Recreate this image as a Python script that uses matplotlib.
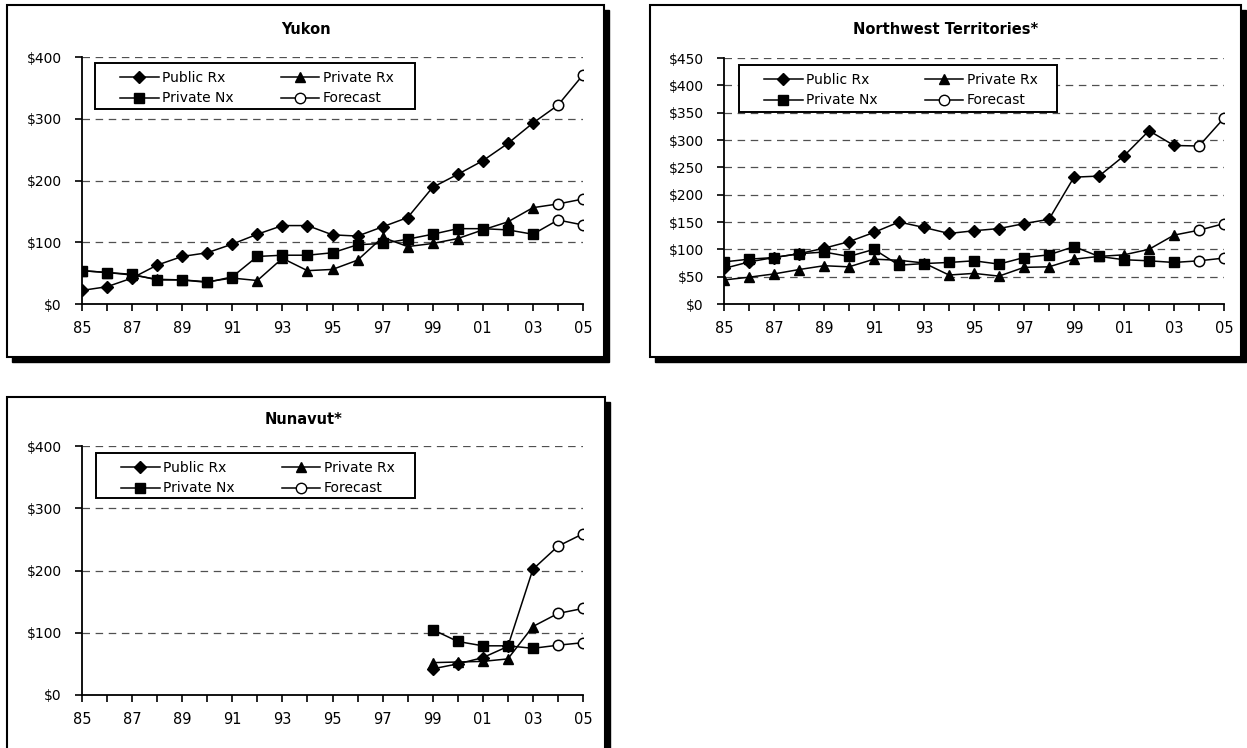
import matplotlib
matplotlib.use("Agg")
import matplotlib.pyplot as plt
from matplotlib.patches import Rectangle
from matplotlib.lines import Line2D

# ---------------- data ----------------
years = list(range(1985, 2004))          # actual data 85..03
fc_years = [2003, 2004, 2005]             # forecast segment (starts at last actual)
tick_years = list(range(1985, 2006))
tick_labels = ["85", "", "87", "", "89", "", "91", "", "93", "", "95", "", "97", "",
               "99", "", "01", "", "03", "", "05"]

# Yukon
yk_public = [22, 28, 42, 63, 77, 83, 97, 113, 127, 127, 112, 110, 125, 140, 189, 210, 232, 260, 293]
yk_privrx = [54, 51, 47, 40, 39, 36, 42, 38, 74, 54, 56, 71, 108, 93, 98, 106, 120, 133, 156]
yk_privnx = [54, 51, 48, 39, 39, 35, 44, 77, 79, 79, 83, 96, 98, 105, 113, 122, 122, 120, 113]
yk_public_fc = [322, 371]
yk_privrx_fc = [162, 170]
yk_privnx_fc = [136, 128]

# Northwest Territories
nt_public = [65, 77, 85, 92, 102, 114, 131, 150, 140, 129, 134, 138, 147, 155, 232, 234, 271, 317, 290]
nt_privrx = [44, 49, 55, 63, 70, 68, 82, 80, 75, 53, 56, 51, 67, 68, 82, 87, 90, 100, 126]
nt_privnx = [77, 82, 85, 92, 95, 87, 100, 71, 74, 76, 79, 73, 85, 90, 105, 87, 81, 79, 76]
nt_public_fc = [289, 340]
nt_privrx_fc = [135, 147]
nt_privnx_fc = [79, 84]

# Nunavut (data from 99)
nu_years = [1999, 2000, 2001, 2002, 2003]
nu_public = [42, 50, 60, 78, 202]
nu_privrx = [52, 53, 54, 58, 110]
nu_privnx = [105, 86, 79, 79, 75]
nu_public_fc = [239, 259]
nu_privrx_fc = [131, 139]
nu_privnx_fc = [80, 84]

series_names = ["Public Rx", "Private Rx", "Private Nx", "Forecast"]

# ---------------- figure ----------------
W, H = 1247, 748
plt.rcParams['font.family'] = ['DejaVu Sans']
fig = plt.figure(figsize=(W / 100, H / 100), dpi=100)


def px_rect(x0, y0, x1, y1, **kw):
    return Rectangle((x0 / W, 1 - y1 / H), (x1 - x0) / W, (y1 - y0) / H,
                     transform=fig.transFigure, **kw)


def frame(x0, y0, x1, y1):
    fig.patches.append(px_rect(x0 + 5, y0 + 5, x1 + 5, y1 + 5, facecolor="black",
                               edgecolor="black", zorder=-3))
    fig.patches.append(px_rect(x0, y0, x1, y1, facecolor="white",
                               edgecolor="black", linewidth=1.5, zorder=-2))


def axes_px(x0, y0, x1, y1):
    return fig.add_axes([x0 / W, 1 - y1 / H, (x1 - x0) / W, (y1 - y0) / H])


LW = 1.1
mk = dict(color="black", linewidth=LW, markeredgecolor="black")


def panel(ax, title, tx, ty, xs, pub, prx, pnx, pub_fc, prx_fc, pnx_fc, ymax, ystep, box):
    ax.plot(xs, pub, marker="D", markersize=6.3, markerfacecolor="black", **mk)
    ax.plot(xs, prx, marker="^", markersize=7.5, markerfacecolor="black", **mk)
    ax.plot(xs, pnx, marker="s", markersize=7, markerfacecolor="black", **mk)
    for last, fc in ((pub[-1], pub_fc), (prx[-1], prx_fc), (pnx[-1], pnx_fc)):
        ax.plot(fc_years, [last] + fc, marker="o", markersize=7.5, markerfacecolor="white",
                markevery=[1, 2], markeredgewidth=1.1, **mk)
    ax.set_xlim(1985, 2005)
    ax.set_ylim(0, ymax)
    ax.set_xticks(tick_years)
    ax.set_xticklabels(tick_labels)
    yt = list(range(0, ymax + 1, ystep))
    ax.set_yticks(yt)
    ax.set_yticklabels(["$%d" % v for v in yt])
    for v in yt[1:]:
        ax.axhline(v, color="#505050", linewidth=0.9, linestyle=(0, (6, 4.5)), zorder=0.5)
    for s in ("top", "right"):
        ax.spines[s].set_visible(False)
    for s in ("left", "bottom"):
        ax.spines[s].set_linewidth(1.3)
    ax.tick_params(axis="x", direction="out", length=5, width=1.2, pad=7.5, labelsize=10.5)
    ax.tick_params(axis="y", direction="out", length=5, width=1.2, pad=9.5, labelsize=10)
    ax.set_facecolor("none")
    fig.text(tx / W, 1 - ty / H, title, ha="center", va="center",
             fontsize=10.5, fontweight="bold")
    # legend box (white, black border) drawn as a patch
    bx0, by0, bx1, by1 = box
    rect = px_rect(bx0, by0, bx1, by1, facecolor="white", edgecolor="black",
                   linewidth=1.4, zorder=4)
    rect.set_clip_on(False)
    ax.add_patch(rect)
    handles = [
        Line2D([], [], marker="D", markersize=6.3, markerfacecolor="black", **mk),
        Line2D([], [], marker="s", markersize=7, markerfacecolor="black", **mk),
        Line2D([], [], marker="^", markersize=7.5, markerfacecolor="black", **mk),
        Line2D([], [], marker="o", markersize=7.5, markerfacecolor="white", **mk),
    ]
    labels = [series_names[0], series_names[2], series_names[1], series_names[3]]
    anchor = ((bx0 + 25) / W, 1 - (by0 + 7.5) / H)
    leg = ax.legend(handles, labels, ncol=2, loc="upper left", bbox_to_anchor=anchor,
                    bbox_transform=fig.transFigure,
                    fontsize=10, frameon=False,
                    handlelength=2.8, handletextpad=0.25, columnspacing=3.35,
                    labelspacing=0.5, borderpad=0, borderaxespad=0)
    leg.set_zorder(5)


# frames
frame(7, 5, 604, 357)
frame(650, 5, 1241, 357)
frame(7, 397, 605, 770)

ax1 = axes_px(82, 57, 583, 304)
panel(ax1, "Yukon", 306, 30, years, yk_public, yk_privrx, yk_privnx,
      yk_public_fc, yk_privrx_fc, yk_privnx_fc, 400, 100, (95, 63, 415, 109))

ax2 = axes_px(724, 58, 1224, 304)
panel(ax2, "Northwest Territories*", 946, 30, years, nt_public, nt_privrx, nt_privnx,
      nt_public_fc, nt_privrx_fc, nt_privnx_fc, 450, 50, (739, 65, 1057, 112))

ax3 = axes_px(82, 446, 583, 695)
panel(ax3, "Nunavut*", 304, 419, nu_years, nu_public, nu_privrx, nu_privnx,
      nu_public_fc, nu_privrx_fc, nu_privnx_fc, 400, 100, (96, 453, 415, 498))

fig.savefig("out.png", dpi=100)
